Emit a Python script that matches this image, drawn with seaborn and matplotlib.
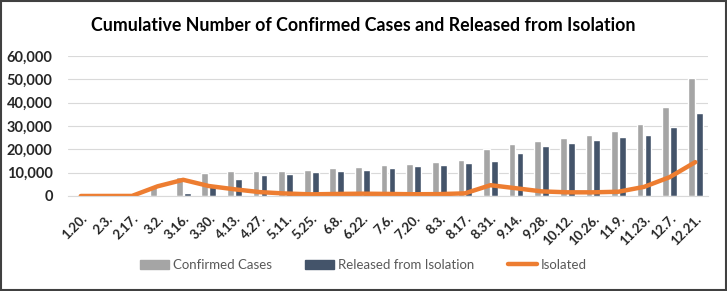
import numpy as np
import pandas as pd
import matplotlib
matplotlib.use('Agg')
import matplotlib.pyplot as plt
import seaborn as sns
from matplotlib.patches import Patch, Rectangle
from matplotlib.lines import Line2D

# data (cumulative counts)
dates = ['1.20.', '2.3.', '2.17.', '3.2.', '3.16.', '3.30.', '4.13.', '4.27.', '5.11.',
         '5.25.', '6.8.', '6.22.', '7.6.', '7.20.', '8.3.', '8.17.', '8.31.', '9.14.',
         '9.28.', '10.12.', '10.26.', '11.9.', '11.23.', '12.7.', '12.21.']
confirmed = [1, 15, 30, 4212, 8236, 9661, 10537, 10752, 10909, 11206, 11814, 12438,
             13137, 13771, 14389, 15515, 19947, 22285, 23661, 24805, 25955, 27653,
             30733, 38161, 50591]
released = [0, 0, 10, 31, 1137, 5228, 7447, 8854, 9632, 10226, 10669, 11172, 11970,
            12729, 13280, 14063, 14997, 18593, 21292, 22789, 23934, 25341, 26325,
            29549, 35375]
isolated = [1, 15, 20, 4150, 6934, 4275, 2873, 1654, 1060, 711, 876, 986, 885, 747,
            808, 1127, 4627, 3317, 1967, 1575, 1566, 1830, 3908, 8072, 14516]

series_names = ['Confirmed Cases', 'Released from Isolation', 'Isolated']
bar_colors = ['#A5A5A5', '#44546A']
line_color = '#ED7D31'

bars_df = pd.DataFrame({
    'date': dates * 2,
    'count': confirmed + released,
    'series': [series_names[0]] * len(dates) + [series_names[1]] * len(dates),
})

sns.set_style('white')
plt.rcParams['font.family'] = ['Lato', 'DejaVu Sans']

fig = plt.figure(figsize=(7.27, 2.91), dpi=100)
ax = fig.add_axes([0.0935, 0.3265, 0.8805, 0.4811])

sns.barplot(data=bars_df, x='date', y='count', hue='series', order=dates,
            palette=bar_colors, width=0.62, gap=0.15, ax=ax, legend=False,
            saturation=1)
sns.lineplot(x=np.arange(len(dates)), y=isolated, color=line_color, linewidth=3.2,
             ax=ax, legend=False)

ax.set_ylim(0, 60000)
ax.set_xlim(-0.5, len(dates) - 0.5)
ax.set_yticks(range(0, 60001, 10000))
ax.set_yticklabels([f'{v:,}' for v in range(0, 60001, 10000)],
                   fontsize=10.5, fontweight='bold')
ax.set_xticks(range(len(dates)))
ax.set_xticklabels(dates, rotation=45, ha='right', rotation_mode='anchor',
                   fontsize=9.5, fontweight='bold')
ax.tick_params(axis='y', length=0, pad=11)
ax.tick_params(axis='x', length=0, pad=12)
ax.set_xlabel('')
ax.set_ylabel('')
ax.grid(axis='y', color='#D9D9D9', linewidth=0.8)
ax.set_axisbelow(True)
for s in ['top', 'right', 'left']:
    ax.spines[s].set_visible(False)
ax.spines['bottom'].set_color('#D9D9D9')
ax.spines['bottom'].set_linewidth(0.8)

fig.text(0.5, 0.914, 'Cumulative Number of Confirmed Cases and Released from Isolation',
         ha='center', va='center', fontsize=12.8, fontweight='bold', color='#000000')

handles = [Patch(color=bar_colors[0]), Patch(color=bar_colors[1]),
           Line2D([0], [0], color=line_color, linewidth=3.2)]
fig.legend(handles, series_names, loc='center', bbox_to_anchor=(0.5, 0.09), ncol=3,
           frameon=False, fontsize=9.5, labelcolor='#595959', handlelength=2.2,
           handleheight=0.7, columnspacing=2.5, handletextpad=0.3)

fig.add_artist(Rectangle((0.002, 0.003), 0.996, 0.994, transform=fig.transFigure,
                         fill=False, edgecolor='#404040', linewidth=1.5))

fig.savefig('out.png', dpi=100)
